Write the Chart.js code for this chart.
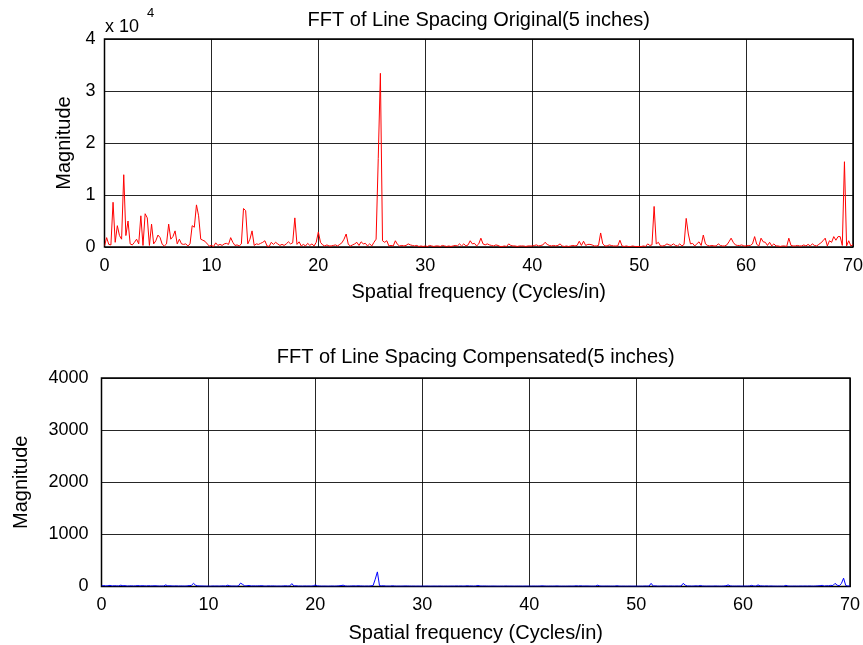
<!DOCTYPE html>
<html>
<head>
<meta charset="utf-8">
<title>FFT of Line Spacing</title>
<script src="https://cdn.jsdelivr.net/npm/chart.js@4.4.0/dist/chart.umd.min.js"></script>
<style>
  html, body { margin: 0; padding: 0; background: #fff; }
  #wrap { position: relative; width: 863px; height: 645px; }
  canvas { position: absolute; left: 0; }
  #fftOriginal { top: 0; }
  #fftCompensated { top: 320px; }
</style>
</head>
<body>
<div id="wrap">
  <canvas id="fftOriginal" width="863" height="310"></canvas>
  <canvas id="fftCompensated" width="863" height="325"></canvas>
</div>
<script>
// spectrum bins: 0 .. 70 cycles/in, 0.2 cycles/in apart (5 inch record)
const binStep = 0.2;
const binCount = 351;

const xTicks = [0, 10, 20, 30, 40, 50, 60, 70];
const yTicksOriginal = [0, 1, 2, 3, 4];          // x 10^4
const yTicksCompensated = [0, 1000, 2000, 3000, 4000];

// magnitude before compensation, in units of 10^4
const originalMag = [
  0.02, 0.18, 0.05, 0.04, 0.86, 0.09, 0.41, 0.22, 0.15, 1.39,
  0.22, 0.5, 0.06, 0.04, 0.09, 0.15, 0.06, 0.6, 0.03, 0.64,
  0.56, 0.03, 0.44, 0.06, 0.12, 0.23, 0.18, 0.05, 0.02, 0.06,
  0.44, 0.15, 0.2, 0.31, 0.06, 0.15, 0.06, 0.05, 0.06, 0.02,
  0.06, 0.41, 0.38, 0.81, 0.6, 0.15, 0.13, 0.11, 0.06, 0.02,
  0.03, 0.01, 0.08, 0.03, 0.05, 0.03, 0.06, 0.07, 0.05, 0.18,
  0.09, 0.03, 0.04, 0.02, 0.06, 0.74, 0.7, 0.06, 0.15, 0.31,
  0.03, 0.06, 0.05, 0.07, 0.09, 0.12, 0.02, 0.01, 0.09, 0.05,
  0.09, 0.06, 0.03, 0.05, 0.03, 0.06, 0.1, 0.06, 0.08, 0.56,
  0.05, 0.1, 0.02, 0.05, 0.02, 0.07, 0.03, 0.06, 0.02, 0.09,
  0.29, 0.09, 0.04, 0.02, 0.04, 0.02, 0.02, 0.03, 0.04, 0.02,
  0.05, 0.08, 0.15, 0.25, 0.05, 0.02, 0.04, 0.06, 0.09, 0.03,
  0.1, 0.06, 0.07, 0.02, 0.06, 0.02, 0.09, 0.15, 1.7, 3.34,
  0.12, 0.09, 0.12, 0.02, 0.03, 0.02, 0.12, 0.05, 0.02, 0.03,
  0.02, 0.03, 0.06, 0.04, 0.03, 0.02, 0.03, 0.01, 0.02, 0.01,
  0.02, 0.01, 0.03, 0.02, 0.01, 0.02, 0.02, 0.01, 0.03, 0.02,
  0.01, 0.02, 0.01, 0.02, 0.03, 0.02, 0.06, 0.02, 0.06, 0.02,
  0.04, 0.12, 0.06, 0.07, 0.02, 0.06, 0.17, 0.06, 0.04, 0.06,
  0.04, 0.03, 0.02, 0.04, 0.03, 0.01, 0.01, 0.02, 0.01, 0.06,
  0.03, 0.02, 0.02, 0.01, 0.02, 0.02, 0.02, 0.01, 0.02, 0.02,
  0.02, 0.03, 0.04, 0.02, 0.03, 0.04, 0.09, 0.05, 0.03, 0.02,
  0.03, 0.02, 0.03, 0.06, 0.02, 0.01, 0.02, 0.01, 0.02, 0.03,
  0.02, 0.03, 0.11, 0.03, 0.11, 0.03, 0.05, 0.05, 0.04, 0.02,
  0.02, 0.03, 0.27, 0.06, 0.02, 0.02, 0.04, 0.03, 0.02, 0.02,
  0.02, 0.13, 0.02, 0.01, 0.02, 0.01, 0.01, 0.02, 0.01, 0.01,
  0.01, 0.01, 0.02, 0.01, 0.06, 0.03, 0.04, 0.78, 0.06, 0.09,
  0.02, 0.02, 0.03, 0.06, 0.04, 0.03, 0.06, 0.03, 0.02, 0.06,
  0.02, 0.05, 0.55, 0.25, 0.06, 0.07, 0.02, 0.06, 0.1, 0.03,
  0.23, 0.06, 0.03, 0.02, 0.03, 0.02, 0.02, 0.06, 0.03, 0.02,
  0.02, 0.04, 0.1, 0.17, 0.09, 0.04, 0.03, 0.03, 0.04, 0.02,
  0.02, 0.03, 0.03, 0.06, 0.2, 0.05, 0.02, 0.17, 0.1, 0.09,
  0.03, 0.09, 0.02, 0.06, 0.02, 0.02, 0.01, 0.02, 0.02, 0.01,
  0.17, 0.03, 0.02, 0.02, 0.03, 0.02, 0.02, 0.04, 0.02, 0.05,
  0.02, 0.06, 0.03, 0.02, 0.05, 0.08, 0.12, 0.17, 0.02, 0.12,
  0.09, 0.2, 0.13, 0.2, 0.2, 0.03, 1.64, 0.02, 0.12, 0.02,
  0.05
];

// magnitude after compensation
const compensatedMag = [
  12, 18, 10, 14, 22, 9, 15, 12, 10, 25,
  14, 16, 8, 11, 13, 9, 12, 18, 10, 15,
  13, 9, 16, 10, 12, 14, 11, 8, 10, 9,
  30, 12, 14, 10, 9, 12, 8, 10, 9, 8,
  10, 18, 20, 60, 25, 12, 10, 9, 8, 7,
  8, 6, 10, 8, 9, 7, 10, 12, 8, 25,
  12, 8, 9, 7, 10, 65, 40, 10, 14, 20,
  9, 12, 10, 11, 13, 15, 8, 7, 12, 9,
  11, 9, 7, 8, 7, 10, 14, 9, 10, 55,
  10, 14, 8, 9, 7, 10, 8, 9, 7, 12,
  30, 12, 9, 7, 8, 7, 6, 8, 9, 7,
  9, 12, 18, 25, 10, 7, 8, 10, 12, 8,
  14, 10, 9, 7, 9, 7, 12, 18, 140, 280,
  15, 12, 14, 7, 8, 7, 14, 9, 7, 8,
  7, 8, 10, 9, 8, 7, 8, 6, 7, 6,
  7, 6, 8, 7, 6, 7, 7, 6, 8, 7,
  6, 7, 6, 7, 8, 7, 10, 7, 10, 7,
  8, 14, 9, 10, 7, 9, 20, 9, 8, 9,
  8, 7, 7, 8, 7, 6, 6, 7, 6, 9,
  7, 7, 7, 6, 7, 7, 7, 6, 7, 7,
  7, 7, 8, 7, 7, 8, 12, 9, 7, 7,
  8, 7, 8, 10, 7, 6, 7, 6, 7, 8,
  7, 8, 14, 8, 14, 8, 9, 9, 8, 7,
  7, 8, 25, 9, 7, 7, 8, 8, 7, 7,
  7, 14, 7, 6, 7, 6, 6, 7, 6, 6,
  6, 6, 7, 6, 9, 8, 8, 60, 9, 12,
  7, 7, 8, 9, 8, 7, 9, 8, 7, 9,
  7, 9, 60, 25, 9, 10, 7, 9, 12, 8,
  20, 9, 8, 7, 8, 7, 7, 10, 8, 7,
  7, 9, 14, 30, 12, 8, 8, 8, 9, 7,
  7, 8, 8, 10, 22, 9, 7, 30, 12, 11,
  8, 12, 7, 10, 7, 7, 6, 7, 7, 6,
  22, 8, 7, 7, 8, 7, 7, 9, 7, 9,
  7, 10, 8, 7, 9, 12, 15, 22, 7, 15,
  12, 22, 18, 60, 25, 14, 60, 160, 20, 8,
  10
];

const freqs = [];
for (let i = 0; i < binCount; i++) {
  freqs.push(+(i * binStep).toFixed(1));
}

function toPoints(mags) {
  return mags.map((m, i) => ({ x: freqs[i], y: m }));
}

const fontFamily = '"Liberation Sans", Arial, Helvetica, sans-serif';
Chart.defaults.font.family = fontFamily;
Chart.defaults.font.size = 18;
Chart.defaults.color = '#000';

// black box round the plot area
const frameBox = {
  id: 'frameBox',
  beforeDatasetsDraw(chart) {
    const { ctx, chartArea: a } = chart;
    ctx.save();
    ctx.strokeStyle = '#000';
    ctx.lineWidth = 1.5;
    ctx.strokeRect(a.left, a.top, a.right - a.left, a.bottom - a.top);
    ctx.restore();
  }
};

// title centred over the plot area, plus the optional "x 10^n" factor
const axesTitle = {
  id: 'axesTitle',
  afterDraw(chart, args, opts) {
    const { ctx, chartArea: a } = chart;
    ctx.save();
    ctx.font = '20px ' + fontFamily;
    ctx.fillStyle = '#000';
    ctx.textAlign = 'center';
    ctx.textBaseline = 'middle';
    ctx.fillText(opts.text, (a.left + a.right) / 2, opts.y);
    if (opts.exponent) {
      ctx.font = '18px ' + fontFamily;
      ctx.textAlign = 'left';
      ctx.textBaseline = 'alphabetic';
      ctx.fillText('x 10', a.left + 0.5, 32);
      ctx.font = '13px ' + fontFamily;
      ctx.fillText(opts.exponent, a.left + 42.5, 17);
    }
    ctx.restore();
  }
};

function makeScales(yMax, yWidth, xHeight, yTitlePad, xTitlePad, yTickPad, yTicks) {
  return {
    x: {
      type: 'linear',
      min: 0,
      max: 70,
      afterBuildTicks: s => { s.ticks = xTicks.map(v => ({ value: v })); },
      ticks: { padding: 8, maxRotation: 0, callback: v => String(v) },
      grid: { color: 'rgba(0,0,0,0.85)', lineWidth: 1, drawTicks: false },
      border: { display: false },
      title: { display: true, text: 'Spatial frequency (Cycles/in)', font: { size: 20 }, padding: { bottom: xTitlePad } },
      afterFit: s => { s.height = xHeight; s.paddingLeft = 0; s.paddingRight = 0; }
    },
    y: {
      min: 0,
      max: yMax,
      afterBuildTicks: s => { s.ticks = yTicks.map(v => ({ value: v })); },
      ticks: { padding: yTickPad, callback: v => String(v) },
      grid: { color: 'rgba(0,0,0,0.85)', lineWidth: 1, drawTicks: false },
      border: { display: false },
      title: { display: true, text: 'Magnitude', font: { size: 20 }, padding: { top: yTitlePad } },
      afterFit: s => { s.width = yWidth; s.paddingTop = 0; s.paddingBottom = 0; }
    }
  };
}

new Chart(document.getElementById('fftOriginal'), {
  type: 'line',
  data: {
    datasets: [{
      data: toPoints(originalMag),
      borderColor: '#ff0000',
      borderWidth: 1,
      pointRadius: 0,
      tension: 0
    }]
  },
  options: {
    responsive: false,
    animation: false,
    events: [],
    layout: { padding: { top: 39, right: 10, left: 0, bottom: 0 } },
    plugins: {
      legend: { display: false },
      tooltip: { enabled: false },
      axesTitle: { text: 'FFT of Line Spacing Original(5 inches)', y: 20, exponent: '4' }
    },
    scales: makeScales(4, 104.5, 63, 52, 6, 9, yTicksOriginal)
  },
  plugins: [frameBox, axesTitle]
});

new Chart(document.getElementById('fftCompensated'), {
  type: 'line',
  data: {
    datasets: [{
      data: toPoints(compensatedMag),
      borderColor: '#0000ff',
      borderWidth: 1,
      pointRadius: 0,
      tension: 0
    }]
  },
  options: {
    responsive: false,
    animation: false,
    events: [],
    layout: { padding: { top: 58, right: 13, left: 0, bottom: 0 } },
    plugins: {
      legend: { display: false },
      tooltip: { enabled: false },
      axesTitle: { text: 'FFT of Line Spacing Compensated(5 inches)', y: 37 }
    },
    scales: makeScales(4000, 101.5, 58.5, 9, 0, 13, yTicksCompensated)
  },
  plugins: [frameBox, axesTitle]
});
</script>
</body>
</html>
